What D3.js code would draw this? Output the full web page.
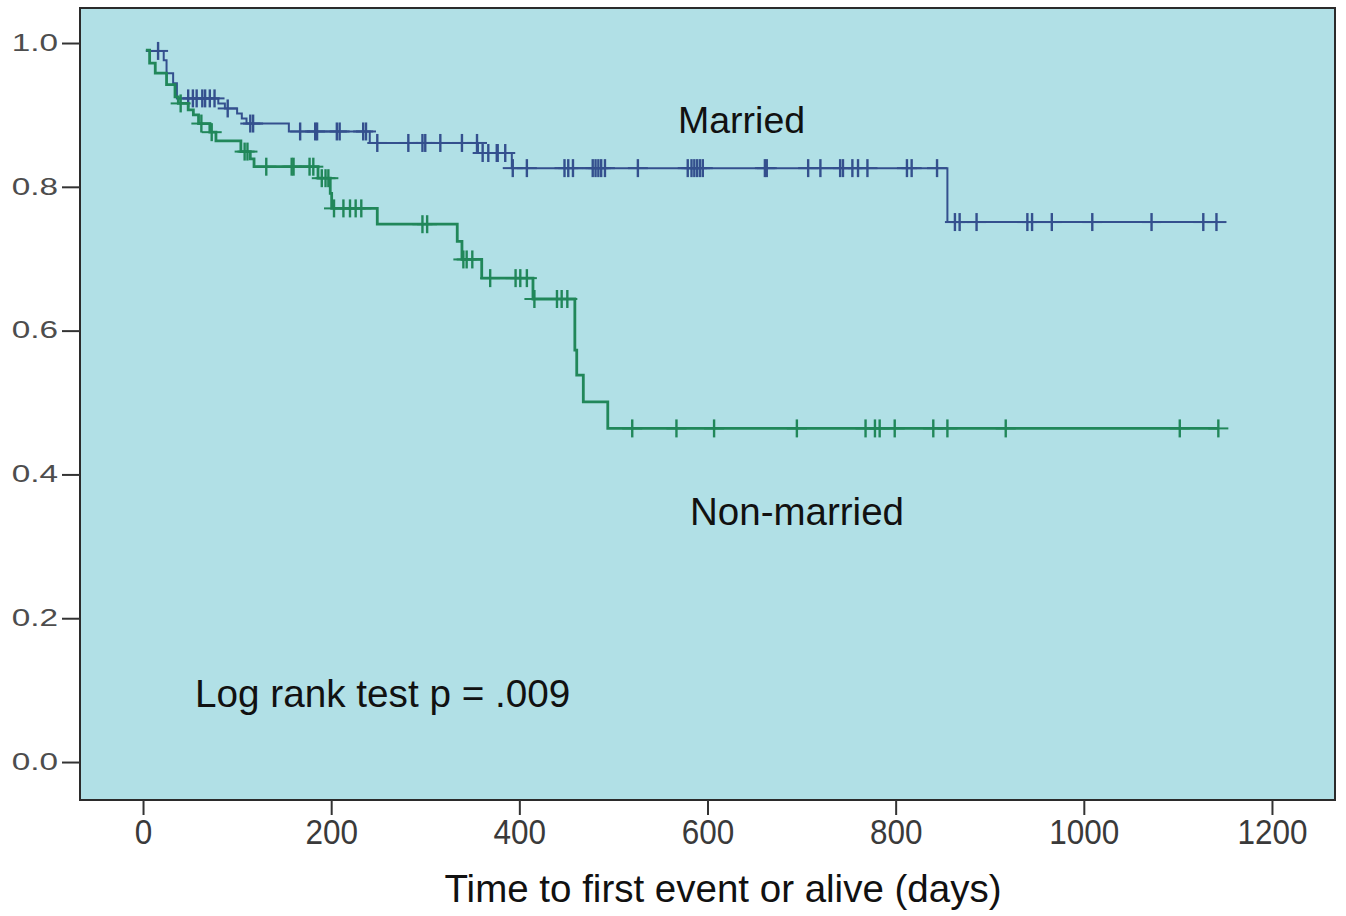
<!DOCTYPE html>
<html>
<head>
<meta charset="utf-8">
<script src="https://cdn.jsdelivr.net/npm/d3@7"></script>
<style>
  body { margin: 0; background: #fff; }
  svg { display: block; font-family: "Liberation Sans", Arial, sans-serif; }
</style>
</head>
<body>
<div id="chart"></div>
<script>
// Kaplan-Meier steps: event time (days) and survival after it
const marriedTimes = [3, 22, 25, 32, 36, 80, 87, 100, 105, 110, 155, 241, 356, 392, 855];
const marriedSurv = [0.989, 0.976, 0.958, 0.944, 0.923, 0.916, 0.909, 0.902, 0.895, 0.888, 0.877, 0.861, 0.847, 0.826, 0.751];
const marriedCensored = [16, 48, 53, 57, 63, 66, 71, 76, 90, 114, 117, 167, 183, 185, 206, 209, 234, 237,
  249, 282, 297, 300, 316, 339, 355, 361, 367, 376, 377, 385, 393, 408, 448, 452, 457, 478, 481, 484, 487, 491,
  526, 579, 583, 586, 589, 592, 595, 661, 663, 707, 720, 741, 744, 754, 760, 770, 812, 817, 844,
  863, 868, 886, 940, 945, 966, 1009, 1072, 1127, 1141];

const nonMarriedTimes = [3, 7, 13, 25, 34, 37.5, 48, 53.5, 59, 71, 77.5, 104, 114, 118, 186, 199, 200.5, 249,
  334, 339, 360, 414.5, 459, 461, 468, 494];
const nonMarriedSurv = [0.99, 0.972, 0.958, 0.942, 0.925, 0.916, 0.907, 0.900, 0.888, 0.876, 0.864, 0.849, 0.839,
  0.828, 0.812, 0.791, 0.770, 0.748, 0.724, 0.699, 0.673, 0.644, 0.573, 0.538, 0.501, 0.464];
const nonMarriedCensored = [40, 62, 73, 108, 111, 131, 158, 160, 177, 181, 190, 194, 197, 203, 213, 220, 226, 232,
  297, 302, 340.5, 344, 350, 369, 396, 401, 408, 416, 440, 445, 451, 520, 567, 607, 695, 768, 778, 783, 799,
  840, 855, 917, 1102, 1143];

const xTicks = [0, 200, 400, 600, 800, 1000, 1200];
const yTicks = [0, 0.2, 0.4, 0.6, 0.8, 1.0];

const width = 1346, height = 916;
const plot = {left: 80, top: 8, right: 1335, bottom: 800};

const svg = d3.select("#chart").append("svg")
  .attr("width", width)
  .attr("height", height);

const x = d3.scaleLinear().domain([-67, 1267]).range([plot.left, plot.right]);
const y = d3.scaleLinear().domain([-0.0528, 1.0487]).range([plot.bottom, plot.top]);

// plot background
svg.append("rect")
  .attr("x", plot.left).attr("y", plot.top)
  .attr("width", plot.right - plot.left).attr("height", plot.bottom - plot.top)
  .attr("fill", "#b1e0e6");

// survival value at a given time (for the censor marks)
function survAt(times, surv, t) {
  let s = surv[0];
  for (let i = 0; i < times.length; i++) {
    if (times[i] <= t) s = surv[i];
  }
  return s;
}

const stepLine = d3.line()
  .x(d => x(d[0]))
  .y(d => y(d[1]))
  .curve(d3.curveStepAfter);

const series = [
  {times: marriedTimes, surv: marriedSurv, cens: marriedCensored, color: "#34508e", width: 2},
  {times: nonMarriedTimes, surv: nonMarriedSurv, cens: nonMarriedCensored, color: "#21875a", width: 2.8}
];

series.forEach(s => {
  const pts = s.times.map((t, i) => [t, s.surv[i]]);
  const tEnd = d3.max(s.cens);
  pts.push([tEnd, s.surv[s.surv.length - 1]]);

  svg.append("path")
    .attr("d", stepLine(pts))
    .attr("fill", "none")
    .attr("stroke", s.color)
    .attr("stroke-width", s.width);

  //censor marks are "+"
  const marks = svg.append("g")
    .attr("stroke", s.color)
    .attr("stroke-width", 2.4);
  s.cens.forEach(t => {
    const cx = x(t), cy = y(survAt(s.times, s.surv, t));
    marks.append("line").attr("x1", cx).attr("x2", cx).attr("y1", cy - 9).attr("y2", cy + 9);
    marks.append("line").attr("x1", cx - 10).attr("x2", cx + 10).attr("y1", cy).attr("y2", cy)
      .attr("stroke-width", 2);
  });
});

// frame
svg.append("rect")
  .attr("x", plot.left).attr("y", plot.top)
  .attr("width", plot.right - plot.left).attr("height", plot.bottom - plot.top)
  .attr("fill", "none")
  .attr("stroke", "#2b2b2b")
  .attr("stroke-width", 2);

// axes
const yAxis = svg.append("g")
  .attr("transform", "translate(" + plot.left + ",0)")
  .call(d3.axisLeft(y).tickValues(yTicks).tickFormat(d3.format(".1f")).tickSize(18).tickPadding(4));
yAxis.select(".domain").remove();
yAxis.selectAll(".tick line").attr("stroke", "#333").attr("stroke-width", 2);
yAxis.selectAll(".tick text")
  .attr("font-size", 23)
  .attr("font-family", "Liberation Sans, Arial, sans-serif")
  .attr("fill", "#4d4d4d")
  .attr("x", -22 / 1.45)
  .attr("transform", "scale(1.45,1)");

const xAxis = svg.append("g")
  .attr("transform", "translate(0," + plot.bottom + ")")
  .call(d3.axisBottom(x).tickValues(xTicks).tickFormat(d3.format("d")).tickSize(15).tickPadding(4));
xAxis.select(".domain").remove();
xAxis.selectAll(".tick line").attr("stroke", "#333").attr("stroke-width", 2);
xAxis.selectAll(".tick text")
  .attr("font-size", 35)
  .attr("font-family", "Liberation Sans, Arial, sans-serif")
  .attr("fill", "#3a3a3a")
  .attr("x", 0)
  .attr("transform", "scale(0.9,1)");

// axis title
svg.append("text")
  .attr("x", 723).attr("y", 902)
  .attr("text-anchor", "middle")
  .attr("font-size", 38.5)
  .attr("fill", "#111")
  .text("Time to first event or alive (days)");

// annotations
svg.append("text")
  .attr("x", 678).attr("y", 133)
  .attr("font-size", 37.5)
  .attr("fill", "#111")
  .text("Married");

svg.append("text")
  .attr("x", 690).attr("y", 525)
  .attr("font-size", 38.5)
  .attr("fill", "#111")
  .text("Non-married");

svg.append("text")
  .attr("x", 195).attr("y", 707)
  .attr("font-size", 38.7)
  .attr("fill", "#111")
  .text("Log rank test p = .009");
</script>
</body>
</html>
